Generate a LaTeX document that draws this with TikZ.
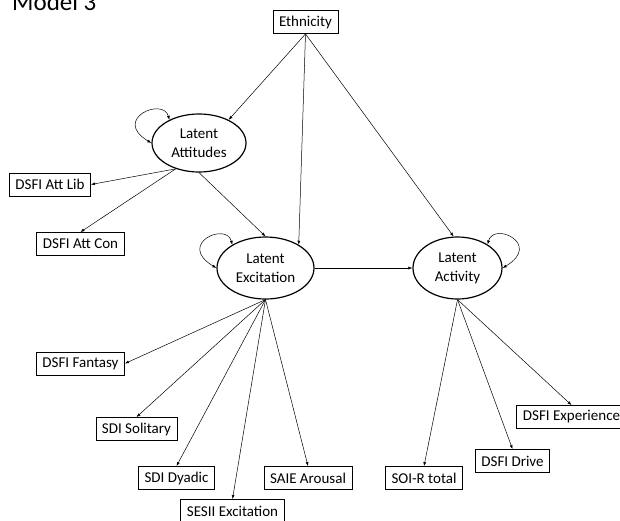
\documentclass[tikz,border=0pt]{standalone}
\usepackage{fontspec}
\setmainfont{Carlito}
\usetikzlibrary{arrows.meta,shapes.geometric}
\begin{document}
\begin{tikzpicture}[x=1pt,y=-1pt,
  every node/.style={font=\fontsize{15}{19}\selectfont},
  obs/.style={draw, line width=0.9pt, minimum height=23pt, inner xsep=6pt, inner ysep=0pt},
  lat/.style={draw, ellipse, line width=1.2pt, align=center, inner sep=0pt},
  tip/.style={Latex[length=4pt,width=3pt]},
  reg/.style={line width=0.5pt, -{Latex[length=4pt,width=3pt]}},
  var/.style={line width=0.5pt, {Latex[length=4pt,width=3pt]}-{Latex[length=4pt,width=3pt]}}]
\clip (0,0) rectangle (620,520);

% title
\node[anchor=base west, inner sep=0pt, font=\fontsize{25}{30}\selectfont] (title) at (12,10) {Model 3};

% exogenous variable
\node[obs] (eth) at (305.5,22) {Ethnicity};

% latent variables
\node[lat, minimum width=94pt, minimum height=58pt] (att) at (199,143) {Latent\\Attitudes};
\node[lat, minimum width=97pt, minimum height=62pt] (exc) at (265.5,268) {Latent\\Excitation};
\node[lat, minimum width=89pt, minimum height=62pt] (act) at (457.5,268) {Latent\\Activity};

% indicators
\node[obs] (lib)  at (50,184.5)  {DSFI Att Lib};
\node[obs] (con)  at (80.5,244)  {DSFI Att Con};
\node[obs] (fant) at (80.5,363.5) {DSFI Fantasy};
\node[obs] (sol)  at (136.5,429) {SDI Solitary};
\node[obs] (dya)  at (176.5,478) {SDI Dyadic};
\node[obs] (ses)  at (232.5,511) {SESII Excitation};
\node[obs] (saie) at (308,478)   {SAIE Arousal};
\node[obs] (soi)  at (424,478)   {SOI-R total};
\node[obs] (drv)  at (512.5,461) {DSFI Drive};
\node[obs] (exp)  at (571.5,417) {DSFI Experience};

% structural paths
\draw[reg] (eth.south) -- (att.38);
\draw[reg] (eth.south) -- (exc.35);
\draw[reg] (eth.south) -- (act.97);
\draw[reg] (att.south) -- (exc.north);
\draw[reg] (exc.east) -- (act.west);

% measurement paths
\draw[reg] (att.228) -- (lib.east);
\draw[reg] (att.228) -- (con.north);
\draw[reg] (exc.south) -- (fant.east);
\draw[reg] (exc.south) -- (sol.north);
\draw[reg] (exc.south) -- (dya.north);
\draw[reg] (exc.south) -- (ses.north);
\draw[reg] (exc.south) -- (saie.north);
\draw[reg] (act.south) -- (soi.north);
\draw[reg] (act.south) -- (drv.north);
\draw[reg] (act.south) -- (exp.north);

% variances
\draw[var] (att.142) .. controls +(-6,-23) and +(-40,-24) .. (att.180);
\draw[var] (exc.145) .. controls +(-6,-23) and +(-40,-24) .. (exc.180);
\draw[var] (act.38) .. controls +(6,-23) and +(40,-24) .. (act.0);
\end{tikzpicture}
\end{document}
